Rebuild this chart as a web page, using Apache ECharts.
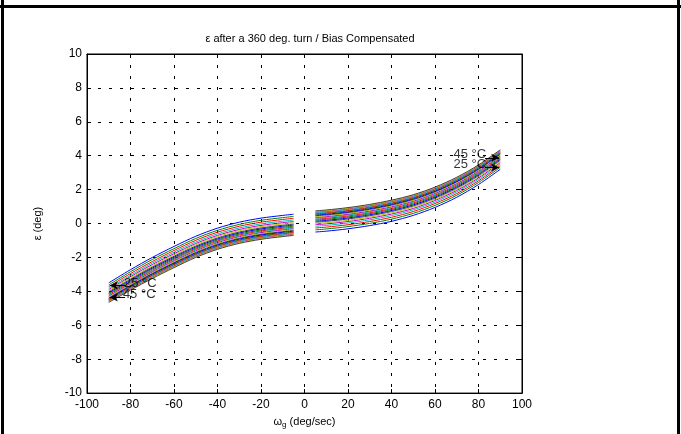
<!DOCTYPE html>
<html>
<head>
<meta charset="utf-8">
<script src="https://cdn.jsdelivr.net/npm/echarts@6/dist/echarts.min.js"></script>
<style>
    html, body { margin: 0; padding: 0; background: #fff; }
    #chart { width: 681px; height: 434px; }
</style>
</head>
<body>
<div id="chart"></div>
<script>
    // x positions of the two curve groups
    let xLeft = [-90, -80, -70, -60, -50, -40, -30, -20, -10, -5];
    let xRight = [5, 10, 20, 30, 40, 50, 60, 70, 80, 90];

    // left group, 25 C (top) down to 45 C (bottom)
    let leftCurves = [
        [-3.50, -2.72, -2.00, -1.35, -0.75, -0.27, 0.08, 0.32, 0.48, 0.55],
        [-3.62, -2.84, -2.12, -1.48, -0.88, -0.40, -0.05, 0.19, 0.35, 0.42],
        [-3.72, -2.95, -2.24, -1.59, -0.99, -0.51, -0.16, 0.08, 0.24, 0.31],
        [-3.81, -3.05, -2.33, -1.69, -1.09, -0.61, -0.26, -0.02, 0.14, 0.21],
        [-3.89, -3.13, -2.42, -1.78, -1.18, -0.70, -0.35, -0.11, 0.05, 0.12],
        [-3.96, -3.20, -2.50, -1.85, -1.25, -0.77, -0.42, -0.18, -0.02, 0.05],
        [-4.03, -3.28, -2.57, -1.93, -1.33, -0.85, -0.50, -0.26, -0.10, -0.03],
        [-4.09, -3.34, -2.63, -1.99, -1.39, -0.91, -0.56, -0.32, -0.16, -0.09],
        [-4.14, -3.40, -2.69, -2.05, -1.45, -0.97, -0.62, -0.38, -0.22, -0.15],
        [-4.20, -3.46, -2.76, -2.11, -1.51, -1.03, -0.68, -0.44, -0.28, -0.21],
        [-4.25, -3.51, -2.81, -2.16, -1.56, -1.08, -0.73, -0.49, -0.33, -0.26],
        [-4.29, -3.55, -2.86, -2.21, -1.61, -1.13, -0.78, -0.54, -0.38, -0.31],
        [-4.34, -3.60, -2.91, -2.26, -1.66, -1.18, -0.83, -0.59, -0.43, -0.36],
        [-4.39, -3.65, -2.95, -2.31, -1.71, -1.23, -0.88, -0.64, -0.48, -0.41],
        [-4.42, -3.69, -2.99, -2.35, -1.75, -1.27, -0.92, -0.68, -0.52, -0.45],
        [-4.47, -3.74, -3.04, -2.40, -1.80, -1.32, -0.97, -0.73, -0.57, -0.50],
        [-4.50, -3.77, -3.08, -2.44, -1.84, -1.36, -1.01, -0.77, -0.61, -0.54],
        [-4.54, -3.81, -3.12, -2.48, -1.88, -1.40, -1.05, -0.81, -0.65, -0.58],
        [-4.58, -3.86, -3.17, -2.53, -1.93, -1.45, -1.10, -0.86, -0.70, -0.63],
        [-4.62, -3.89, -3.20, -2.56, -1.96, -1.48, -1.13, -0.89, -0.73, -0.66],
        [-4.65, -3.93, -3.24, -2.60, -2.00, -1.52, -1.17, -0.93, -0.77, -0.70]
    ];

    // right group, 25 C (bottom) up to 45 C (top)
    let rightCurves = [
        [-0.50, -0.45, -0.31, -0.12, 0.13, 0.48, 0.95, 1.55, 2.30, 3.20],
        [-0.37, -0.32, -0.18, 0.01, 0.26, 0.60, 1.07, 1.67, 2.42, 3.32],
        [-0.26, -0.21, -0.07, 0.12, 0.37, 0.71, 1.18, 1.77, 2.52, 3.42],
        [-0.16, -0.11, 0.03, 0.22, 0.47, 0.81, 1.27, 1.87, 2.61, 3.51],
        [-0.07, -0.02, 0.12, 0.31, 0.56, 0.89, 1.36, 1.95, 2.69, 3.59],
        [0.00, 0.05, 0.19, 0.38, 0.63, 0.97, 1.43, 2.02, 2.76, 3.66],
        [0.08, 0.13, 0.27, 0.46, 0.71, 1.04, 1.50, 2.09, 2.83, 3.73],
        [0.14, 0.19, 0.33, 0.52, 0.77, 1.10, 1.56, 2.15, 2.89, 3.79],
        [0.20, 0.25, 0.39, 0.58, 0.83, 1.16, 1.62, 2.21, 2.95, 3.84],
        [0.26, 0.31, 0.45, 0.64, 0.89, 1.22, 1.68, 2.27, 3.01, 3.90],
        [0.31, 0.36, 0.50, 0.69, 0.94, 1.27, 1.73, 2.32, 3.05, 3.95],
        [0.36, 0.41, 0.55, 0.74, 0.99, 1.32, 1.78, 2.36, 3.10, 3.99],
        [0.41, 0.46, 0.60, 0.79, 1.04, 1.37, 1.83, 2.41, 3.15, 4.04],
        [0.46, 0.51, 0.65, 0.84, 1.09, 1.42, 1.87, 2.46, 3.19, 4.09],
        [0.50, 0.55, 0.69, 0.88, 1.13, 1.46, 1.91, 2.49, 3.23, 4.12],
        [0.55, 0.60, 0.74, 0.93, 1.18, 1.50, 1.96, 2.54, 3.27, 4.17],
        [0.59, 0.64, 0.78, 0.97, 1.22, 1.54, 1.99, 2.58, 3.31, 4.20],
        [0.63, 0.68, 0.82, 1.01, 1.26, 1.58, 2.03, 2.61, 3.34, 4.24],
        [0.68, 0.73, 0.87, 1.06, 1.31, 1.63, 2.08, 2.66, 3.39, 4.28],
        [0.71, 0.76, 0.90, 1.09, 1.34, 1.66, 2.11, 2.69, 3.43, 4.32],
        [0.75, 0.80, 0.94, 1.13, 1.38, 1.70, 2.15, 2.73, 3.46, 4.35]
    ];

    // matlab color order
    let colors = ['#0000ff', '#008000', '#ff0000', '#00bfbf', '#bf00bf', '#bfbf00', '#404040'];

    // annotation labels [x, y, text] and arrows [x0, y0, x1, y1]
    let labels = [
        [-83, -3.55, '25 °C'],
        [-83.5, -4.2, '45 °C'],
        [68.5, 4.05, '45 °C'],
        [68.5, 3.48, '25 °C']
    ];
    let arrows = [
        [-82.5, -3.66, -89.5, -3.66],
        [-82.5, -4.36, -89.5, -4.36],
        [83, 3.88, 89.5, 3.88],
        [83, 3.30, 89.5, 3.30]
    ];

    let font = 'Liberation Sans, Arial, sans-serif';

    let series = [];
    let addGroup = (xs, curves) => {
        curves.forEach((ys, i) => {
            series.push({
                type: 'line',
                smooth: 0.3,
                symbol: 'none',
                silent: true,
                animation: false,
                z: 2,
                lineStyle: {width: 1, color: colors[i % 7]},
                data: xs.map((x, j) => [x, ys[j]])
            });
        });
    };
    addGroup(xLeft, leftCurves);
    addGroup(xRight, rightCurves);

    series.push({
        type: 'scatter',
        symbolSize: 0,
        silent: true,
        animation: false,
        z: 10,
        data: labels.map(l => [l[0], l[1], l[2]]),
        labelLayout: {hideOverlap: false},
        label: {
            show: true,
            position: 'right',
            distance: 0,
            formatter: p => p.data[2],
            color: '#000',
            fontSize: 13,
            fontFamily: font
        },
        markLine: {
            silent: true,
            animation: false,
            symbol: ['none', 'arrow'],
            symbolSize: [6, 8],
            label: {show: false},
            lineStyle: {color: '#000', width: 1, type: 'solid'},
            data: arrows.map(a => [{coord: [a[0], a[1]]}, {coord: [a[2], a[3]]}])
        }
    });

    let tick = {show: true, inside: true, length: 4, lineStyle: {color: '#000'}};
    let grid = {show: true, lineStyle: {color: '#000', type: [3, 8], width: 1}};
    let line = {show: true, onZero: false, lineStyle: {color: '#000'}};

    let option = {
        animation: false,
        title: {
            text: 'ε after a 360 deg. turn / Bias Compensated',
            left: 305,
            top: 28,
            textAlign: 'center',
            textStyle: {fontSize: 11, fontWeight: 'normal', color: '#000', fontFamily: font}
        },
        grid: {
            left: 87, right: 159, top: 54, bottom: 36,
            show: true, borderColor: '#000', borderWidth: 1
        },
        xAxis: [{
            type: 'value', min: -100, max: 100, interval: 20,
            axisLine: line,
            axisTick: tick,
            splitLine: grid,
            axisLabel: {color: '#000', fontSize: 12, fontFamily: font, margin: 6},
            name: '{w|ω}{s|g} (deg/sec)',
            nameLocation: 'middle',
            nameGap: 20,
            nameTextStyle: {
                color: '#000', fontSize: 11, fontFamily: font,
                rich: {
                    w: {fontSize: 11, fontFamily: font, color: '#000'},
                    s: {fontSize: 8, fontFamily: font, color: '#000', padding: [7, 0, 0, 0]}
                }
            }
        }, {
            type: 'value', min: -100, max: 100, interval: 20, position: 'top',
            axisLine: line,
            axisTick: tick, axisLabel: {show: false}, splitLine: {show: false}
        }],
        yAxis: [{
            type: 'value', min: -10, max: 10, interval: 2,
            axisLine: line,
            axisTick: tick,
            splitLine: grid,
            axisLabel: {color: '#000', fontSize: 12, fontFamily: font, margin: 5},
            name: 'ε (deg)',
            nameLocation: 'middle',
            nameGap: 44,
            nameTextStyle: {color: '#000', fontSize: 11, fontFamily: font}
        }, {
            type: 'value', min: -10, max: 10, interval: 2, position: 'right',
            axisLine: line,
            axisTick: tick, axisLabel: {show: false}, splitLine: {show: false}
        }],
        graphic: [
            {type: 'rect', shape: {x: 1, y: 0, width: 3, height: 434}, style: {fill: '#000'}, silent: true},
            {type: 'rect', shape: {x: 677, y: 0, width: 3, height: 434}, style: {fill: '#000'}, silent: true},
            {type: 'rect', shape: {x: 0, y: 5, width: 681, height: 3}, style: {fill: '#000'}, silent: true}
        ],
        series: series
    };

    let myChart = echarts.init(document.getElementById('chart'));
    myChart.setOption(option);
</script>
</body>
</html>
